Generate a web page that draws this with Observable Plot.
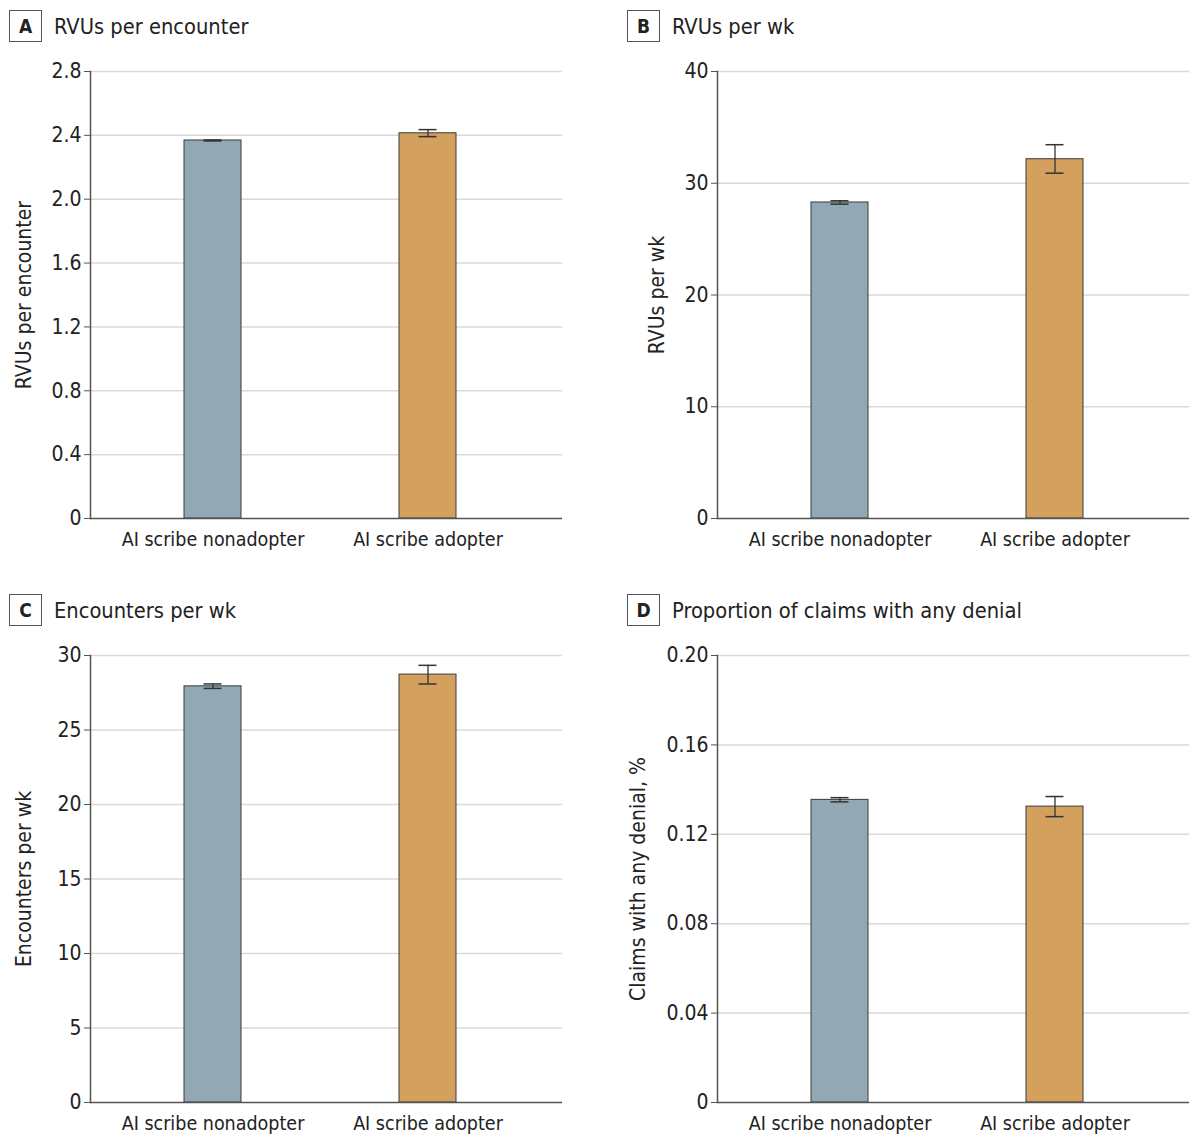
<!DOCTYPE html>
<html>
<head>
<meta charset="utf-8">
<script src="https://cdn.jsdelivr.net/npm/d3@7"></script>
<script src="https://cdn.jsdelivr.net/npm/@observablehq/plot@0.6"></script>
<style>
  html, body { margin: 0; padding: 0; background: #fff; }
  body { width: 1200px; height: 1144px; position: relative; overflow: hidden;
         font-family: "Liberation Sans Narrow", "DejaVu Sans Condensed", "Roboto", sans-serif; color: #222; }
  .panel { position: absolute; width: 600px; height: 584px; }
  .hdr { position: absolute; top: 10px; display: flex; align-items: center; }
  .box { width: 31px; height: 30px; border: 1px solid #555; display: flex; align-items: center;
         justify-content: center; font-weight: bold; font-size: 19px; box-sizing: content-box; }
  .ttl { margin-left: 12px; font-size: 21.7px; }
  .chart { position: absolute; top: 50px; left: 0; }
  .chart g[aria-label="y-axis tick label"] text { font-size: 21px; }
  .chart g[aria-label="x-axis tick label"] text { font-size: 19.5px; }
  .chart g[aria-label="y-axis label"] text { font-size: 21px; }
</style>
</head>
<body>
<script>
const groups = ["AI scribe nonadopter", "AI scribe adopter"];

const rvuPerEncounter     = [2.368, 2.413];
const rvuPerEncounterLo   = [2.365, 2.392];
const rvuPerEncounterHi   = [2.371, 2.436];

const rvuPerWeek          = [28.28, 32.15];
const rvuPerWeekLo        = [28.13, 30.90];
const rvuPerWeekHi        = [28.43, 33.45];

const encountersPerWeek   = [27.93, 28.72];
const encountersPerWeekLo = [27.79, 28.09];
const encountersPerWeekHi = [28.09, 29.34];

const denialProportion    = [0.1354, 0.1324];
const denialProportionLo  = [0.1345, 0.1279];
const denialProportionHi  = [0.1364, 0.1369];

const ticksA = [0, 0.4, 0.8, 1.2, 1.6, 2.0, 2.4, 2.8];
const ticksB = [0, 10, 20, 30, 40];
const ticksC = [0, 5, 10, 15, 20, 25, 30];
const ticksD = [0, 0.04, 0.08, 0.12, 0.16, 0.20];

const colors = ["#92a9b5", "#d4a05d"];

const panels = [
  {letter: "A", title: "RVUs per encounter", ylabel: "RVUs per encounter",
   v: rvuPerEncounter, lo: rvuPerEncounterLo, hi: rvuPerEncounterHi, ticks: ticksA, fmt: d => d === 0 ? "0" : d.toFixed(1),
   left: 0, top: 0, boxLeft: 9, mLeft: 90, mRight: 38, labelOffset: 74},
  {letter: "B", title: "RVUs per wk", ylabel: "RVUs per wk",
   v: rvuPerWeek, lo: rvuPerWeekLo, hi: rvuPerWeekHi, ticks: ticksB, fmt: d => String(d),
   left: 600, top: 0, boxLeft: 27, mLeft: 117, mRight: 11, labelOffset: 68},
  {letter: "C", title: "Encounters per wk", ylabel: "Encounters per wk",
   v: encountersPerWeek, lo: encountersPerWeekLo, hi: encountersPerWeekHi, ticks: ticksC, fmt: d => String(d),
   left: 0, top: 584, boxLeft: 9, mLeft: 90, mRight: 38, labelOffset: 74},
  {letter: "D", title: "Proportion of claims with any denial", ylabel: "Claims with any denial, %",
   v: denialProportion, lo: denialProportionLo, hi: denialProportionHi, ticks: ticksD, fmt: d => d === 0 ? "0" : d.toFixed(2),
   left: 600, top: 584, boxLeft: 27, mLeft: 117, mRight: 11, labelOffset: 87},
];

for (const p of panels) {
  const div = document.createElement("div");
  div.className = "panel";
  div.style.left = p.left + "px";
  div.style.top = p.top + "px";
  const hdr = document.createElement("div");
  hdr.className = "hdr";
  hdr.style.left = p.boxLeft + "px";
  const box = document.createElement("div");
  box.className = "box"; box.textContent = p.letter;
  const ttl = document.createElement("div");
  ttl.className = "ttl"; ttl.textContent = p.title;
  hdr.append(box, ttl);
  div.append(hdr);

  const data = groups.map((g, i) => ({group: g, value: p.v[i], lo: p.lo[i], hi: p.hi[i], color: colors[i]}));
  const ymax = p.ticks[p.ticks.length - 1];

  const chart = Plot.plot({
    width: 600,
    height: 510,
    marginLeft: p.mLeft,
    marginRight: p.mRight,
    marginTop: 21,
    marginBottom: 42,
    style: {fontFamily: '"Liberation Sans Narrow", "DejaVu Sans Condensed", Roboto, sans-serif', fontSize: "20px", color: "#222", background: "transparent"},
    x: {domain: groups, paddingInner: 0.735, paddingOuter: 0.465, align: 0.47},
    y: {domain: [0, ymax]},
    marks: [
      Plot.ruleY(p.ticks.filter(t => t > 0), {stroke: "#d9d9d9", strokeWidth: 1.5}),
      Plot.barY(data, {x: "group", y: "value", fill: "color", stroke: "#3a3a3a", strokeWidth: 1}),
      Plot.ruleX(data, {x: "group", y1: "lo", y2: "hi", stroke: "#333", strokeWidth: 1.3}),
      Plot.tickY(data, {x: "group", y: "lo", stroke: "#333", strokeWidth: 1.5, insetLeft: 19.5, insetRight: 19.5}),
      Plot.tickY(data, {x: "group", y: "hi", stroke: "#333", strokeWidth: 1.5, insetLeft: 19.5, insetRight: 19.5}),
      Plot.frame({anchor: "left", stroke: "#555", strokeWidth: 1.5}),
      Plot.ruleY([0], {stroke: "#555", strokeWidth: 1.5}),
      Plot.axisY({ticks: p.ticks, tickFormat: p.fmt, tickSize: 6, tickPadding: 3, stroke: "#555",
                  label: p.ylabel, labelAnchor: "center", labelArrow: "none", labelOffset: p.labelOffset}),
      Plot.axisX({tickSize: 0, tickPadding: 14, label: null})
    ]
  });
  chart.classList.add("chart");
  chart.style.position = "absolute";
  chart.style.top = "50px";
  chart.style.left = "0px";
  div.append(chart);
  document.body.append(div);
}
</script>
</body>
</html>
